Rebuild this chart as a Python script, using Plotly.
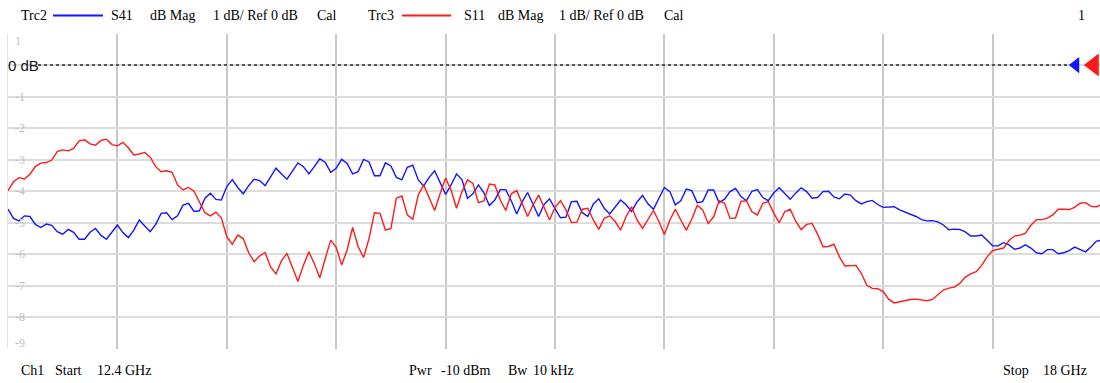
import plotly.graph_objects as go

# Sweep settings
START_GHZ = 12.4
STOP_GHZ = 18.0
N_POINTS = 201
STEP_GHZ = (STOP_GHZ - START_GHZ) / (N_POINTS - 1)
freq_ghz = [START_GHZ + i * STEP_GHZ for i in range(N_POINTS)]

# Trc2: S41 magnitude (dB)
s41_db = [
    -4.57, -4.86, -4.94, -4.78, -4.80, -5.05, -5.15, -5.04, -5.08, -5.28,
    -5.36, -5.21, -5.30, -5.52, -5.52, -5.30, -5.18, -5.40, -5.52, -5.28,
    -5.07, -5.31, -5.47, -5.23, -4.91, -5.10, -5.28, -5.05, -4.70, -4.68,
    -4.90, -4.78, -4.44, -4.38, -4.64, -4.62, -4.22, -4.06, -4.26, -4.28,
    -3.85, -3.63, -3.88, -4.08, -3.82, -3.62, -3.66, -3.82, -3.54, -3.27,
    -3.45, -3.62, -3.36, -3.10, -3.22, -3.45, -3.22, -2.97, -3.09, -3.40,
    -3.27, -2.99, -3.12, -3.45, -3.38, -2.99, -3.07, -3.51, -3.51, -3.10,
    -3.20, -3.56, -3.64, -3.24, -3.17, -3.64, -3.83, -3.56, -3.35, -3.75,
    -4.10, -3.80, -3.45, -3.64, -4.22, -4.08, -3.80, -4.05, -4.45, -4.28,
    -3.95, -3.95, -4.30, -4.72, -4.33, -4.04, -4.43, -4.80, -4.42, -4.24,
    -4.55, -4.84, -4.82, -4.33, -4.32, -4.68, -4.80, -4.40, -4.24, -4.54,
    -4.72, -4.51, -4.28, -4.43, -4.64, -4.34, -4.13, -4.40, -4.57, -4.22,
    -3.88, -4.01, -4.43, -4.30, -3.93, -3.98, -4.36, -4.33, -3.96, -3.96,
    -4.36, -4.25, -4.01, -3.91, -4.17, -4.30, -4.00, -3.95, -4.20, -4.30,
    -4.05, -3.89, -4.06, -4.25, -4.06, -3.89, -4.01, -4.22, -4.20, -4.01,
    -4.00, -4.18, -4.24, -4.09, -4.12, -4.30, -4.40, -4.33, -4.29, -4.42,
    -4.51, -4.51, -4.49, -4.59, -4.66, -4.72, -4.80, -4.90, -4.94, -4.93,
    -4.97, -5.07, -5.22, -5.20, -5.21, -5.29, -5.42, -5.42, -5.39, -5.55,
    -5.73, -5.73, -5.63, -5.70, -5.84, -5.80, -5.70, -5.80, -5.95, -5.98,
    -5.85, -5.85, -5.98, -5.95, -5.88, -5.77, -5.84, -5.92, -5.76, -5.58,
    -5.55,
]

# Trc3: S11 magnitude (dB)
s11_db = [
    -3.98, -3.70, -3.57, -3.61, -3.46, -3.22, -3.11, -3.09, -3.01, -2.74,
    -2.69, -2.72, -2.64, -2.40, -2.37, -2.50, -2.54, -2.39, -2.35, -2.52,
    -2.56, -2.45, -2.62, -2.85, -2.82, -2.77, -2.92, -3.22, -3.38, -3.35,
    -3.40, -3.80, -3.96, -3.88, -4.00, -4.35, -4.68, -4.78, -4.66, -4.84,
    -5.44, -5.68, -5.39, -5.50, -5.95, -6.23, -6.05, -5.94, -6.40, -6.62,
    -6.20, -5.97, -6.40, -6.86, -6.35, -5.92, -6.30, -6.74, -6.13, -5.55,
    -5.78, -6.34, -5.86, -5.15, -5.75, -6.10, -5.50, -4.68, -4.70, -5.23,
    -5.18, -4.22, -4.15, -4.75, -4.89, -4.12, -3.80, -4.22, -4.61, -4.07,
    -3.59, -3.96, -4.54, -4.01, -3.64, -3.75, -4.36, -4.31, -3.77, -3.80,
    -4.28, -4.61, -4.08, -3.98, -4.38, -4.80, -4.43, -4.12, -4.51, -4.91,
    -4.51, -4.30, -4.59, -4.99, -4.98, -4.57, -4.54, -4.91, -5.21, -4.86,
    -4.78, -4.96, -5.23, -4.80, -4.49, -4.91, -5.18, -4.89, -4.61, -4.96,
    -5.37, -4.91, -4.57, -4.91, -5.23, -4.89, -4.45, -4.59, -5.02, -4.81,
    -4.30, -4.38, -4.86, -4.85, -4.32, -4.30, -4.65, -4.75, -4.38, -4.33,
    -4.70, -5.00, -4.65, -4.57, -4.95, -5.22, -5.05, -5.02, -5.36, -5.76,
    -5.75, -5.68, -6.08, -6.37, -6.36, -6.35, -6.60, -6.98, -7.08, -7.09,
    -7.18, -7.42, -7.54, -7.50, -7.46, -7.43, -7.42, -7.44, -7.47, -7.43,
    -7.29, -7.13, -7.07, -7.04, -6.92, -6.72, -6.62, -6.55, -6.35, -6.08,
    -5.88, -5.85, -5.80, -5.56, -5.42, -5.39, -5.33, -5.08, -4.90, -4.90,
    -4.85, -4.75, -4.57, -4.57, -4.58, -4.51, -4.38, -4.36, -4.48, -4.49,
    -4.42,
]

# Display scale
REF_LEVEL_DB = 0
SCALE_DB_PER_DIV = 1
Y_TOP_DB = 1
Y_BOTTOM_DB = -9
y_tick_values = [1, 0, -1, -2, -3, -4, -5, -6, -7, -8, -9]
y_tick_labels = ["1", "0 dB", "-1", "-2", "-3", "-4", "-5", "-6", "-7", "-8", "-9"]

BLUE = "rgb(20,20,255)"
RED = "rgb(255,25,25)"
W, H = 1100, 383


def px_x(p):
    return p / W


def px_y(p):
    return 1 - p / H


fig = go.Figure()

fig.add_trace(go.Scatter(x=freq_ghz, y=s41_db, mode="lines",
                         line=dict(color=BLUE, width=1.4), name="Trc2"))
fig.add_trace(go.Scatter(x=freq_ghz, y=s11_db, mode="lines",
                         line=dict(color=RED, width=1.4), name="Trc3"))

# reference level arrows at the right edge
span = STOP_GHZ - START_GHZ
fig.add_trace(go.Scatter(x=[START_GHZ + span * 0.976], y=[REF_LEVEL_DB], mode="markers",
                         marker=dict(symbol="triangle-left", size=14, color=BLUE,
                                     line=dict(width=0)), cliponaxis=False))
fig.add_trace(go.Scatter(x=[START_GHZ + span * 0.9925], y=[REF_LEVEL_DB], mode="markers",
                         marker=dict(symbol="triangle-left", size=20, color=RED,
                                     line=dict(width=0)), cliponaxis=False))

x_left_px, x_right_px = 8, 1102
plot_w = x_right_px - x_left_px
x_end = START_GHZ + span * (W - x_left_px) / plot_w

fig.update_layout(
    width=W, height=H,
    margin=dict(l=0, r=0, t=0, b=0),
    paper_bgcolor="white", plot_bgcolor="white",
    showlegend=False,
    xaxis=dict(domain=[px_x(x_left_px), 1], range=[START_GHZ, x_end],
               tick0=START_GHZ, dtick=span / 10, showticklabels=False,
               showgrid=True, gridcolor="rgb(200,200,200)", gridwidth=1.5,
               zeroline=False, showline=False, ticks=""),
    yaxis=dict(domain=[px_y(349), px_y(33.5)], range=[Y_BOTTOM_DB, Y_TOP_DB],
               tickvals=y_tick_values, showticklabels=False,
               showgrid=True, gridcolor="rgb(220,220,220)", gridwidth=2,
               zeroline=False, showline=True, linecolor="rgb(228,228,228)",
               linewidth=1, ticks=""),
)

# reference line (dotted) at 0 dB
fig.add_shape(type="line", xref="paper", yref="y",
              x0=px_x(38), x1=px_x(1068), y0=REF_LEVEL_DB, y1=REF_LEVEL_DB,
              line=dict(color="rgb(40,40,40)", width=1.5, dash="dot"), layer="above")

# y scale labels drawn inside the grid
for v, lab in zip(y_tick_values, y_tick_labels):
    if lab.endswith("dB"):
        fig.add_annotation(x=px_x(7), y=v, xref="paper", yref="y", text=lab,
                           showarrow=False, xanchor="left", yanchor="middle",
                           font=dict(family="Liberation Sans, Arial", size=15,
                                     color="rgb(20,20,20)"), borderpad=0)
        continue
    shift = 0
    if v == Y_TOP_DB:
        shift = -7
    elif v == Y_BOTTOM_DB:
        shift = 6
    fig.add_annotation(x=px_x(14), y=v, xref="paper", yref="y", text=lab,
                       showarrow=False, xanchor="left", yanchor="middle", yshift=shift,
                       font=dict(family="Liberation Serif, Times New Roman", size=12,
                                 color="rgb(190,190,190)"), borderpad=0)

serif = dict(family="Liberation Serif, Times New Roman", size=14, color="black")


def text_at(xp, yp, s):
    fig.add_annotation(x=px_x(xp), y=px_y(yp), xref="paper", yref="paper", text=s,
                       showarrow=False, xanchor="left", yanchor="middle",
                       font=serif, borderpad=0)


# header: trace descriptors
header_y = 15.5
text_at(20, header_y, "Trc2")
fig.add_shape(type="line", xref="paper", yref="paper", x0=px_x(53), x1=px_x(103),
              y0=px_y(header_y), y1=px_y(header_y), line=dict(color=BLUE, width=2))
text_at(110, header_y, "S41")
text_at(149, header_y, "dB Mag")
text_at(212, header_y, f"{SCALE_DB_PER_DIV} dB/ Ref {REF_LEVEL_DB} dB")
text_at(316, header_y, "Cal")

text_at(367, header_y, "Trc3")
fig.add_shape(type="line", xref="paper", yref="paper", x0=px_x(402), x1=px_x(451),
              y0=px_y(header_y), y1=px_y(header_y), line=dict(color=RED, width=2))
text_at(463, header_y, "S11")
text_at(497, header_y, "dB Mag")
text_at(558, header_y, f"{SCALE_DB_PER_DIV} dB/ Ref {REF_LEVEL_DB} dB")
text_at(663, header_y, "Cal")

text_at(1077, header_y, "1")

# footer: channel settings
footer_y = 370
text_at(20, footer_y, "Ch1")
text_at(54, footer_y, "Start")
text_at(96, footer_y, f"{START_GHZ} GHz")
text_at(408, footer_y, "Pwr")
text_at(440, footer_y, "-10 dBm")
text_at(507, footer_y, "Bw")
text_at(532, footer_y, "10 kHz")
text_at(1002, footer_y, "Stop")
text_at(1042, footer_y, f"{STOP_GHZ:g} GHz")

fig.write_html("out.html")
